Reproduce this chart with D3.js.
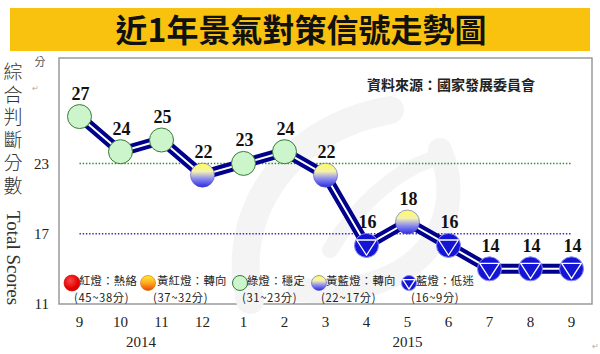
<!DOCTYPE html>
<html>
<head>
<meta charset="utf-8">
<script src="https://cdn.jsdelivr.net/npm/d3@7"></script>
<style>
  html, body { margin: 0; padding: 0; background: #fff; }
  svg { display: block; }
</style>
</head>
<body>
<div id="chart"></div>
<script>
// 月份、年份與綜合判斷分數
const months = ["9", "10", "11", "12", "1", "2", "3", "4", "5", "6", "7", "8", "9"];
const years = [
  { label: "2014", from: 0, to: 3 },
  { label: "2015", from: 4, to: 12 }
];
const scores = [27, 24, 25, 22, 23, 24, 22, 16, 18, 16, 14, 14, 14];
const yTicks = [11, 17, 23];
const refLines = [23, 17];

// 燈號圖例
const legendNames = ["紅燈：熱絡", "黃紅燈：轉向", "綠燈：穩定", "黃藍燈：轉向", "藍燈：低迷"];
const legendRanges = ["(45~38分)", "(37~32分)", "(31~23分)", "(22~17分)", "(16~9分)"];
const legendKeys = ["red", "yellowRed", "green", "yellowBlue", "blue"];

const width = 600, height = 354;
const box = { left: 59, right: 592, top: 58, bottom: 304 };
const cjk = "'Noto Sans CJK TC', 'Noto Sans CJK SC', sans-serif";
const serif = "'Liberation Serif', 'DejaVu Serif', serif";

const svg = d3.select("#chart").append("svg")
  .attr("width", width)
  .attr("height", height);

const defs = svg.append("defs");
const grad = (id, stops) => {
  const g = defs.append("linearGradient").attr("id", id)
    .attr("x1", 0).attr("y1", 0).attr("x2", 0).attr("y2", 1);
  stops.forEach(s => g.append("stop").attr("offset", s[0]).attr("stop-color", s[1]));
};
grad("gYB", [["0%", "#ffff55"], ["35%", "#f4f0b0"], ["65%", "#8c8cf0"], ["100%", "#2a2ae0"]]);
grad("gYR", [["0%", "#ffee33"], ["50%", "#ffaa22"], ["100%", "#ee4400"]]);
const rg = defs.append("radialGradient").attr("id", "gRed").attr("cx", "40%").attr("cy", "35%");
rg.append("stop").attr("offset", "0%").attr("stop-color", "#ff4444");
rg.append("stop").attr("offset", "100%").attr("stop-color", "#e00000");

// 標題
svg.append("rect")
  .attr("x", 10).attr("y", 8).attr("width", 580).attr("height", 43)
  .attr("fill", "#f8c20e");
svg.append("text")
  .attr("x", 301).attr("y", 42)
  .attr("text-anchor", "middle")
  .style("font-family", cjk)
  .style("font-weight", "bold")
  .style("font-size", "32px")
  .style("fill", "#111")
  .text("近1年景氣對策信號走勢圖");

// 圖框
svg.append("rect")
  .attr("x", box.left).attr("y", box.top)
  .attr("width", box.right - box.left).attr("height", box.bottom - box.top)
  .attr("fill", "#fff")
  .attr("stroke", "#9a9a9a")
  .attr("stroke-width", 1.5);

// 淡色浮水印
const wm = svg.append("g").attr("fill", "none").attr("stroke", "#f4f4f4").attr("stroke-linecap", "round");
wm.append("path").attr("d", "M250,300 C230,220 280,130 390,110").attr("stroke-width", 28);
wm.append("path").attr("d", "M300,290 C420,300 470,220 440,150").attr("stroke-width", 24);
wm.append("path").attr("d", "M330,250 C360,200 400,170 430,160").attr("stroke-width", 16);

const x = d3.scaleBand()
  .domain(d3.range(months.length))
  .range([box.left, box.right])
  .padding(0);
const cx = i => x(i) + x.bandwidth() / 2;

const y = d3.scaleLinear()
  .domain([11, 32])
  .range([box.bottom, box.top]);

// 參考虛線
svg.selectAll(".ref")
  .data(refLines)
  .enter().append("line")
  .attr("x1", cx(0)).attr("x2", cx(months.length - 1))
  .attr("y1", d => y(d)).attr("y2", d => y(d))
  .attr("stroke", d => d === 23 ? "#1f8f1f" : "#3322cc")
  .attr("stroke-width", 1.4)
  .attr("stroke-dasharray", "1.4,1.8");

// Y 軸刻度
const yAxis = svg.append("g")
  .attr("transform", `translate(${box.left - 10},0)`)
  .call(d3.axisLeft(y).tickValues(yTicks).tickSize(0).tickPadding(0));
yAxis.select(".domain").remove();
yAxis.selectAll("text")
  .style("font-family", serif)
  .style("font-size", "15px")
  .style("fill", "#222");

// X 軸刻度
const xAxis = svg.append("g")
  .attr("transform", `translate(0,${box.bottom + 12})`)
  .call(d3.axisBottom(x).tickFormat(i => months[i]).tickSize(0).tickPadding(0));
xAxis.select(".domain").remove();
xAxis.selectAll("text")
  .style("font-family", serif)
  .style("font-size", "15px")
  .style("fill", "#222");

svg.selectAll(".year")
  .data(years)
  .enter().append("text")
  .attr("x", d => (cx(d.from) + cx(d.to)) / 2)
  .attr("y", 347)
  .attr("text-anchor", "middle")
  .style("font-family", serif)
  .style("font-size", "15px")
  .style("fill", "#222")
  .text(d => d.label);

// Y 軸標題（直書）
svg.append("text")
  .attr("x", 13).attr("y", 62)
  .style("writing-mode", "tb")
  .style("font-family", cjk)
  .style("font-weight", 300)
  .style("font-size", "19px")
  .style("letter-spacing", "3.8px")
  .style("fill", "#333")
  .text("綜合判斷分數");

svg.append("text")
  .attr("transform", "translate(7,258) rotate(90)")
  .attr("text-anchor", "middle")
  .style("font-family", serif)
  .style("font-size", "19px")
  .style("fill", "#333")
  .text("Total Scores");

svg.append("text")
  .attr("x", 40).attr("y", 66)
  .attr("text-anchor", "middle")
  .style("font-family", cjk)
  .style("font-size", "11px")
  .style("fill", "#555")
  .text("分");

svg.append("text").attr("x", 32).attr("y", 91)
  .style("font-size", "8px").style("fill", "#aaa").text("↵");
svg.append("text").attr("x", 592).attr("y", 349)
  .style("font-size", "8px").style("fill", "#aaa").text("↵");

// 資料來源
svg.append("text")
  .attr("x", 367).attr("y", 90)
  .style("font-family", cjk)
  .style("font-weight", "bold")
  .style("font-size", "14px")
  .style("fill", "#222")
  .text("資料來源：國家發展委員會");

// 走勢線
const line = d3.line()
  .x((d, i) => cx(i))
  .y(d => y(d));
svg.append("path")
  .datum(scores)
  .attr("d", line)
  .attr("fill", "none")
  .attr("stroke", "#00008c")
  .attr("stroke-width", 10)
  .attr("stroke-linejoin", "round");
svg.append("path")
  .datum(scores)
  .attr("d", line)
  .attr("fill", "none")
  .attr("stroke", "#fff")
  .attr("stroke-width", 2)
  .attr("stroke-linejoin", "round");

const signal = v => v >= 38 ? "red" : v >= 32 ? "yellowRed" : v >= 23 ? "green" : v >= 17 ? "yellowBlue" : "blue";

function drawMarker(g, key, r) {
  if (key === "green") {
    g.append("circle").attr("r", r).attr("fill", "#ccf5cc").attr("stroke", "#3a7a3a").attr("stroke-width", 1);
  } else if (key === "yellowBlue") {
    g.append("circle").attr("r", r).attr("fill", "url(#gYB)").attr("stroke", "#5555cc").attr("stroke-width", 0.6);
  } else if (key === "yellowRed") {
    g.append("circle").attr("r", r).attr("fill", "url(#gYR)").attr("stroke", "#cc6600").attr("stroke-width", 0.6);
  } else if (key === "red") {
    g.append("circle").attr("r", r).attr("fill", "url(#gRed)").attr("stroke", "#cc0000").attr("stroke-width", 0.6);
  } else {
    g.append("circle").attr("r", r).attr("fill", "#1414d4").attr("stroke", "#8a8aff").attr("stroke-width", 1);
    const t = r * 0.82;
    g.append("path")
      .attr("d", `M${-t},${-t * 0.55}L${t},${-t * 0.55}L0,${t}Z`)
      .attr("fill", "none")
      .attr("stroke", "#fff")
      .attr("stroke-width", 1.3)
      .attr("stroke-linejoin", "round");
  }
}

const marks = svg.selectAll(".mark")
  .data(scores)
  .enter().append("g")
  .attr("class", "mark")
  .attr("transform", (d, i) => `translate(${cx(i)},${y(d)})`);
marks.each(function (d) { drawMarker(d3.select(this), signal(d), 12); });

svg.selectAll(".val")
  .data(scores)
  .enter().append("text")
  .attr("x", (d, i) => cx(i) + 1)
  .attr("y", d => y(d) - 17)
  .attr("text-anchor", "middle")
  .style("font-family", serif)
  .style("font-weight", "bold")
  .style("font-size", "18px")
  .style("fill", "#111")
  .text(d => d);

// 圖例
const legendX = [72, 148, 240, 319, 409];
const legend = svg.selectAll(".legend")
  .data(legendKeys)
  .enter().append("g")
  .attr("transform", (d, i) => `translate(${legendX[i]},283)`);
legend.each(function (d) { drawMarker(d3.select(this), d, d === "red" ? 8 : 7.5); });
legend.append("text")
  .attr("x", (d, i) => i === 1 ? 9 : 7).attr("y", 2)
  .style("font-family", cjk)
  .style("font-size", "11.3px")
  .style("letter-spacing", "0.3px")
  .style("fill", "#222")
  .text((d, i) => legendNames[i]);
legend.append("text")
  .attr("x", (d, i) => i === 1 ? 5 : 2).attr("y", 18.5)
  .style("font-family", cjk)
  .style("font-size", "11.3px")
  .style("letter-spacing", "0.6px")
  .style("fill", "#222")
  .text((d, i) => legendRanges[i]);
</script>
</body>
</html>
